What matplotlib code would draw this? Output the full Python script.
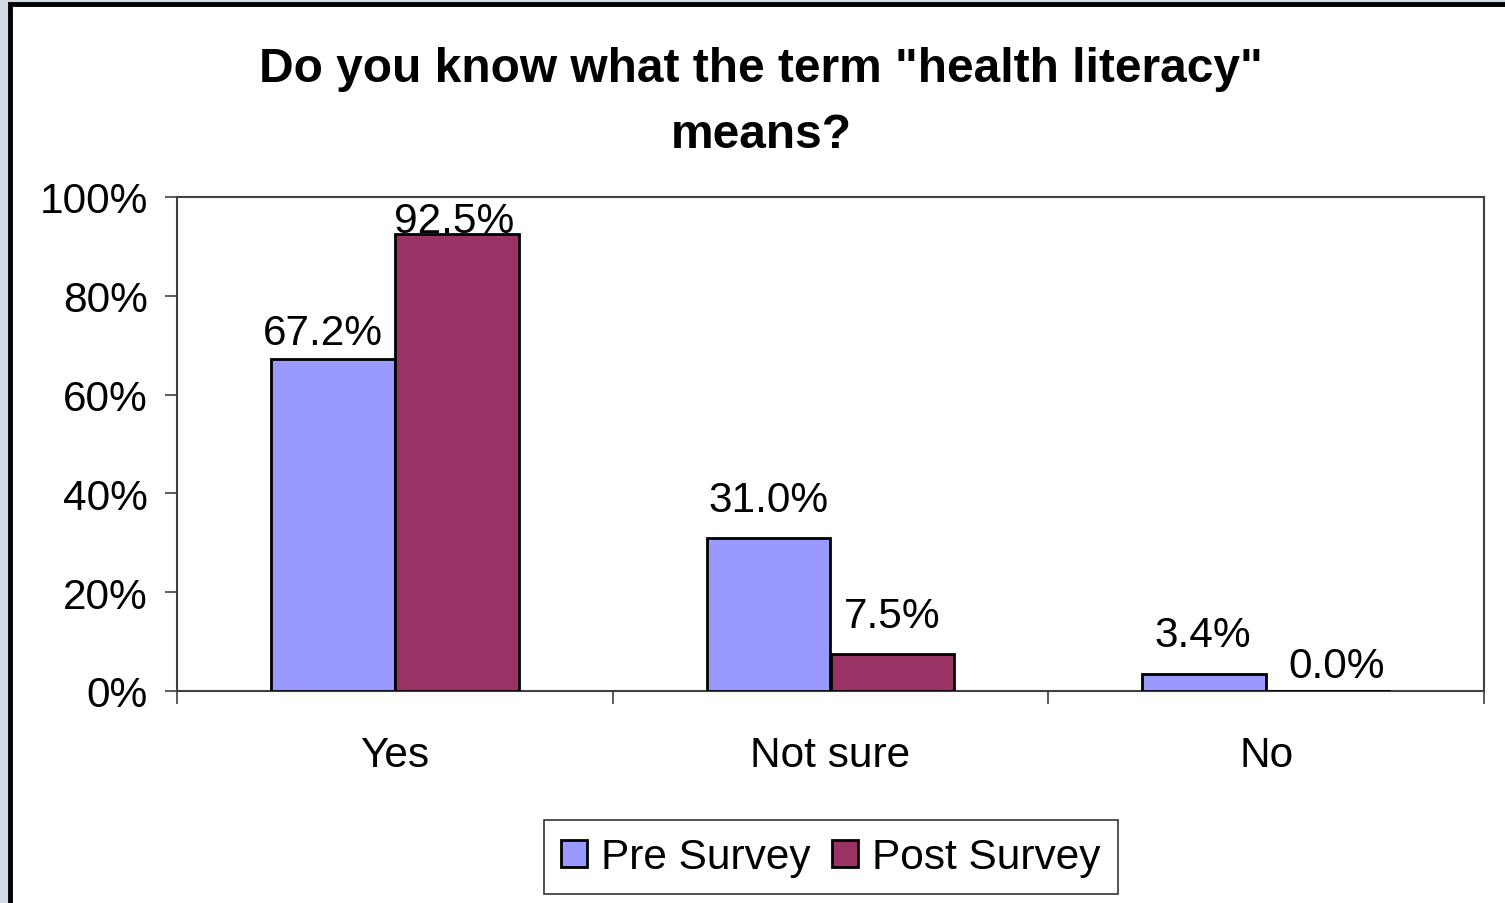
import matplotlib
matplotlib.use("Agg")
import matplotlib.pyplot as plt
from matplotlib.patches import Rectangle
from matplotlib.ticker import FixedLocator, PercentFormatter
import numpy as np

plt.rcParams['font.family'] = ['Liberation Sans', 'DejaVu Sans']

title = 'Do you know what the term "health literacy"\nmeans?'
categories = ["Yes", "Not sure", "No"]
series_names = ["Pre Survey", "Post Survey"]
pre_values = [67.2, 31.0, 3.4]
post_values = [92.5, 7.5, 0.0]
colors = ["#9999FF", "#993366"]
y_ticks = [0, 20, 40, 60, 80, 100]

# label offsets (points) as placed in the original chart
pre_label_offsets = [(-7, 11), (0, 19.5), (-1, 20)]
post_label_offsets = [(-1.5, 1.5), (0, 19.5), (6.5, 10)]

fig = plt.figure(figsize=(15.05, 9.04), dpi=100)
fig.patch.set_facecolor("#d3dce4")
frame = Rectangle((10/1505, -0.01), 1.02, 1 - 5/904 + 0.01,
                  transform=fig.transFigure, facecolor="white",
                  edgecolor="black", linewidth=3.5, zorder=-10)
fig.patches.append(frame)

ax = fig.add_axes([177/1505, 1 - 692/904, (1484-177)/1505, (692-198)/904])
ax.set_zorder(5)
ax.set_facecolor("white")

x = np.arange(len(categories))
w = 0.284
b1 = ax.bar(x - w/2, pre_values, w, color=colors[0], edgecolor="black",
            linewidth=2, label=series_names[0], zorder=3)
b2 = ax.bar(x + w/2, post_values, w, color=colors[1], edgecolor="black",
            linewidth=2, label=series_names[1], zorder=3)
for bars, vals, offs in ((b1, pre_values, pre_label_offsets),
                         (b2, post_values, post_label_offsets)):
    for bar, v, off in zip(bars, vals, offs):
        ax.annotate(f"{v:.1f}%", (bar.get_x() + bar.get_width()/2, bar.get_height()),
                    xytext=off, textcoords="offset points", ha="center",
                    va="baseline", fontsize=30.5, color="black", zorder=4,
                    annotation_clip=False)

ax.set_xlim(-0.5, len(categories) - 0.5)
ax.set_ylim(0, 100)
ax.yaxis.set_major_locator(FixedLocator(y_ticks))
ax.yaxis.set_major_formatter(PercentFormatter(decimals=0))
ax.set_xticks(x)
ax.set_xticklabels(categories)
ax.xaxis.set_minor_locator(FixedLocator(np.arange(-0.5, len(categories), 1.0)))
ax.tick_params(axis="x", which="major", length=0, pad=32, labelsize=30.5)
ax.tick_params(axis="x", which="minor", length=9, width=1.2, color="#404040", direction="out")
ax.tick_params(axis="y", length=9, width=1.2, color="#404040", pad=12, labelsize=30.5)
for s in ax.spines.values():
    s.set_color("#404040")
    s.set_linewidth(1.5)

fig.text(761/1505, 1 - 102/904, title, ha="center", va="center",
         fontsize=34.5, fontweight="bold", linespacing=1.6, zorder=6)

leg = fig.legend(handles=[b1, b2], labels=series_names, loc="center",
                 bbox_to_anchor=(831/1505, 1 - 858/904), ncol=2,
                 fontsize=30.5, frameon=True, fancybox=False, handlelength=0.6,
                 handleheight=0.6, handletextpad=0.35, columnspacing=0.5,
                 borderpad=0.4, borderaxespad=0)
leg.set_zorder(6)
leg.get_frame().set_edgecolor("black")
leg.get_frame().set_linewidth(1.2)

fig.savefig("out.png", dpi=100, facecolor=fig.get_facecolor())
